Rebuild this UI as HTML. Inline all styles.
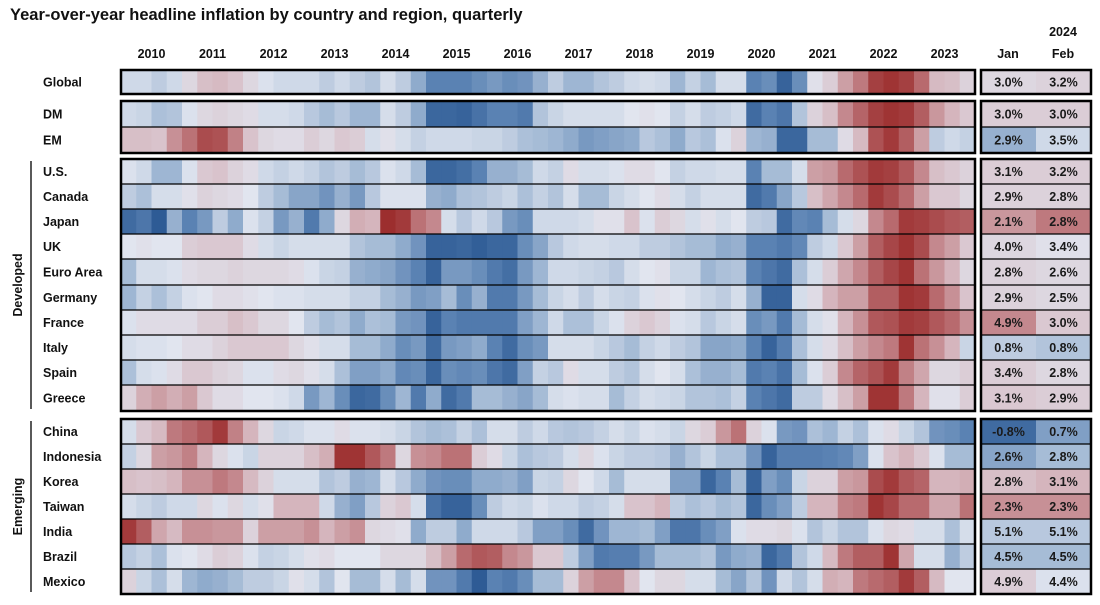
<!DOCTYPE html>
<html><head><meta charset="utf-8"><style>
html,body{margin:0;padding:0;background:#fff;}
svg{display:block;font-family:"Liberation Sans",Arial,sans-serif;}
</style></head><body>
<svg id="chart" width="1100" height="605" viewBox="0 0 1100 605" xmlns="http://www.w3.org/2000/svg">
<text x="10" y="20" font-size="16.5" font-weight="bold" fill="#111">Year-over-year headline inflation by country and region, quarterly</text>
<g id="cells"></g>
<g id="frames"></g>
<g id="labels"></g>
</svg>
<script>
const years = ["2010","2011","2012","2013","2014","2015","2016","2017","2018","2019","2020","2021","2022","2023"];
const rowNames = ["Global","DM","EM","U.S.","Canada","Japan","UK","Euro Area","Germany","France","Italy","Spain","Greece","China","Indonesia","Korea","Taiwan","India","Brazil","Mexico"];
const zGlobal=[-0.3,-0.3,-0.6,-0.3,0.3,0.8,0.9,0.7,0.3,-0.1,-0.3,-0.3,-0.3,-0.6,-0.3,-0.6,-0.8,-0.2,-0.6,-1.3,-2,-2,-2,-1.8,-1.6,-1.8,-1.7,-1.2,-0.6,-1.1,-1.1,-0.8,-0.6,-0.3,-0.2,-0.3,-1.1,-0.5,-1.0,-0.2,-0.2,-2,-1.8,-2.8,-1.8,0.1,0.5,1.3,1.8,2.7,2.9,2.7,2,0.9,0.8,0.4];
const zDM=[-0.3,-0.4,-0.9,-0.8,-0.1,0.3,0.4,0.3,0.2,-0.2,-0.2,-0.3,-0.7,-1.0,-0.7,-1.1,-1.1,-0.2,-0.6,-1.3,-2.7,-2.7,-2.8,-2.4,-2,-2,-2.2,-0.8,-0.4,-0.2,-0.2,-0.2,-0.2,0,0.1,0,-0.5,-0.2,-0.6,-0.5,-0.3,-2.6,-2.0,-2.3,-0.8,0.4,0.8,1.6,2.1,2.7,2.9,2.8,2.2,1.4,1.0,0.6];
const zEM=[0.8,0.8,0.7,1.5,1.9,2.5,2.4,1.7,0.7,0.3,0.2,0.2,0.5,0.3,0.6,0.5,-0.2,0.1,-0.2,-0.5,-0.3,-0.3,-0.3,-0.4,-0.4,-0.6,-0.9,-1.0,-1.1,-1.3,-1.6,-1.5,-1.4,-1.3,-0.7,-0.9,-1.3,-0.7,-0.9,-0.1,0.4,-1.1,-1.2,-2.7,-2.7,-1.0,-1.0,0.2,0.9,2.4,2.8,2.2,1.3,-0.6,-0.3,-0.5];
const zUS=[-0.1,-0.3,-1.1,-1.1,-0.1,0.6,0.7,0.4,0.2,-0.3,-0.5,-0.3,-0.5,-0.8,-0.6,-1.0,-0.7,-0.1,-0.3,-1.0,-2.7,-2.7,-2.5,-2.0,-1.2,-1.2,-1.0,-0.3,-0.5,0.2,-0.2,-0.2,-0.1,0.2,0.2,0,-0.5,-0.3,-0.3,-0.2,-0.2,-2.0,-1.0,-1.0,-0.2,1.3,1.4,2.0,2.4,2.8,2.7,2.3,1.6,0.8,0.6,0.4];
const zCanada=[-0.6,-0.9,-0.2,-0.2,0.1,0.4,0.3,0.2,0,-0.6,-1.0,-1.4,-1.4,-1.7,-1.2,-1.6,-0.7,-0.1,-0.1,-0.1,-1.2,-1.3,-0.9,-0.8,-0.6,-0.4,-0.9,-0.5,-0.8,-0.2,-1.0,-1.0,-0.4,-0.2,0,0.2,-0.2,-0.5,-0.2,-0.2,-0.2,-2.6,-2.2,-1.4,-0.7,0.8,1.2,1.6,2.0,2.8,2.5,2.0,1.3,0.6,0.6,0.3];
const zJapan=[-2.6,-2.3,-3.0,-1.2,-2.0,-1.6,-0.6,-1.3,-0.1,-0.5,-1.6,-1.2,-2.2,-1.3,0.3,1.1,1.0,3.0,2.8,1.9,1.6,-0.2,-0.7,-0.3,-0.7,-1.6,-1.8,-0.3,-0.3,-0.3,-0.2,0.1,0.1,0.7,-0.1,0.5,0.3,-0.2,0.1,-0.2,0,-0.6,-0.7,-2.6,-1.9,-2.0,-1.0,-0.2,0.3,1.6,2.0,2.8,2.7,2.5,2.3,2.2];
const zUK=[0,0.1,0,0,0.5,0.6,0.6,0.6,0.2,-0.2,-0.4,-0.2,-0.2,-0.2,-0.2,-0.8,-1.0,-1.0,-1.3,-1.7,-2.8,-2.8,-2.7,-2.9,-2.7,-2.7,-1.8,-1.4,-0.7,-0.3,-0.2,-0.2,-0.3,-0.3,-0.6,-0.6,-0.8,-1.0,-1.0,-1.3,-1.2,-2.0,-2.0,-2.2,-1.9,-0.6,-0.3,0.6,1.3,2.2,2.6,2.9,2.5,1.6,1.3,0.6];
const zEuro=[-1.0,-0.2,-0.2,-0.1,0.2,0.3,0.3,0.4,0.3,0.3,0.3,0.2,-0.1,-0.4,-0.5,-1.2,-1.3,-1.4,-1.7,-2.0,-2.8,-1.6,-1.6,-1.8,-2.2,-2.5,-1.6,-1.1,-0.3,-0.3,-0.4,-0.5,-0.7,-0.2,0,0.1,-0.4,-0.4,-1.1,-0.9,-0.8,-2.0,-2.3,-2.6,-0.9,-0.2,0.5,1.2,1.6,2.2,2.6,2.9,1.9,1.4,1.0,0.3];
const zGermany=[-1.1,-0.5,-0.9,-0.5,-0.1,0,0.2,0.2,0.1,0,-0.1,-0.1,-0.2,-0.2,-0.2,-0.5,-0.5,-1.0,-1.2,-1.6,-1.5,-1.0,-1.8,-1.2,-2.2,-2.2,-1.6,-1.0,-0.4,-0.2,-0.6,-0.2,-0.4,-0.5,-0.1,0.1,0,-0.2,-0.4,-0.6,-0.2,-1.2,-2.8,-2.8,-0.2,0.2,1.0,1.3,1.3,2.2,2.2,2.9,2.8,2.0,1.5,0.7];
const zFrance=[-0.1,0.2,0.2,0.2,0.2,0.5,0.5,0.8,0.6,0.3,0.3,0,-0.6,-1.0,-0.8,-1.3,-0.9,-1.0,-1.6,-1.7,-2.8,-2.0,-2.2,-2.2,-2.2,-2.2,-1.5,-1.1,-0.3,-0.9,-0.9,-0.4,-0.1,0.4,0.6,0.4,-0.1,-0.2,-0.7,-0.4,-0.2,-1.8,-1.6,-2.2,-1.0,-0.2,0.1,1.0,1.5,2.3,2.4,2.8,2.7,2.3,2.0,1.5];
const zItaly=[-0.2,-0.1,-0.1,0,0.2,0.2,0.4,0.6,0.6,0.6,0.6,0.3,0.1,-0.2,-0.2,-1.0,-1.0,-1.3,-1.8,-1.6,-2.6,-1.6,-1.5,-1.3,-2.0,-2.6,-1.8,-1.6,-0.2,-0.2,-0.2,-0.4,-0.7,-1.0,-0.5,-0.3,-0.6,-0.8,-1.4,-1.4,-1.3,-2.0,-2.8,-2.1,-0.9,-0.2,0.2,0.8,1.3,1.6,1.8,2.9,1.9,1.5,1.0,-0.4];
const zSpain=[-0.9,-0.2,-0.1,0.2,0.6,0.6,0.4,0.3,-0.1,-0.1,0.2,0.3,0.1,-0.2,-0.9,-1.5,-1.5,-1.3,-1.9,-1.8,-2.7,-1.8,-1.9,-1.8,-2.3,-2.6,-1.5,-0.5,-0.7,0.2,-0.2,-0.2,-0.6,-0.8,-0.2,0,-0.2,-0.9,-1.2,-1.2,-1.0,-2.2,-2.0,-2.4,-1.0,-0.1,0.5,1.6,2.1,2.4,2.8,1.7,1.2,0.3,0.3,0.5];
const zGreece=[0.4,1.1,1.3,1.1,1.3,0.6,0.2,0.2,0,0,-0.1,-0.3,-1.6,-1.1,-1.8,-2.7,-2.6,-1.8,-1.1,-2.2,-1.3,-2.6,-2.2,-1.0,-1.0,-1.2,-1.4,-1.0,-0.2,-0.1,-0.2,-0.2,-1.0,-0.5,-0.2,-0.3,-0.4,-0.8,-0.8,-0.9,-0.5,-2.0,-2.3,-2.6,-0.6,-0.6,0.2,0.8,1.3,2.9,2.9,1.8,1.0,0.1,0.1,0.5];
const zChina=[-0.2,0.6,0.9,1.8,2.0,2.3,2.8,1.7,1.0,0.3,-0.4,-0.3,-0.1,-0.1,0.2,-0.1,-0.1,-0.2,-0.4,-0.8,-1.0,-0.9,-0.5,-0.9,-0.2,-0.2,-0.6,-0.3,-0.7,-0.8,-0.7,-0.5,-0.2,-0.4,-0.1,-0.2,-0.4,0.3,0.5,1.4,1.9,0.4,-0.1,-1.6,-1.7,-0.9,-1.1,-0.5,-0.9,-0.1,0.2,-0.4,-0.8,-1.7,-1.8,-2.0];
const zIndonesia=[-0.5,0.3,1.3,1.4,1.7,1.0,0.3,-0.1,-0.4,0.4,0.4,0.4,0.8,1.1,2.9,2.9,2.3,1.8,0.3,1.5,1.6,1.9,1.9,0.5,0.2,-0.4,-0.9,-0.7,-0.6,-0.2,0.3,-0.1,-0.4,-0.6,-0.6,-0.7,-1.2,-0.8,-0.4,-0.9,-0.9,-1.7,-2.8,-2.1,-2.1,-2.1,-2.0,-1.9,-1.5,-0.1,0.7,1.0,0.6,-0.1,-1.0,-1.0];
const zKorea=[0.8,0.7,0.8,1.0,1.5,1.5,1.8,1.6,0.9,0.4,-0.2,-0.2,-0.2,-0.8,-0.6,-1.2,-1.1,-0.2,-0.7,-1.3,-1.7,-1.8,-1.8,-1.3,-1.3,-1.2,-1.5,-0.4,-0.5,0.3,0,-0.3,-1.0,-0.2,-0.2,-0.2,-1.5,-1.5,-2.7,-2.0,-1.0,-2.8,-1.5,-1.8,-0.4,0.4,0.4,1.3,1.4,2.5,2.8,2.3,2.1,1.0,1.0,1.1];
const zTaiwan=[-0.2,-0.4,-0.6,-0.3,-0.3,0.3,-0.1,0.3,-0.2,0.1,1.0,1.0,1.0,-0.3,-1.2,-1.5,-0.7,0.4,0.6,-0.2,-2.4,-2.8,-2.8,-1.8,-0.6,-0.3,-0.4,-0.1,-0.3,-0.3,-0.6,-0.5,-0.2,0.7,0.7,1.0,-0.6,-0.9,-0.7,-1.0,-0.8,-2.7,-1.8,-1.5,-0.6,1.0,1.0,1.7,1.8,2.9,2.6,2.0,2.0,1.2,1.2,1.9];
const zIndia=[2.8,2.2,1.2,0.9,1.5,1.5,1.4,1.4,0.4,1.3,1.3,1.3,1.5,1.0,1.3,1.5,0.3,0.2,0.1,-1.3,-0.6,-0.6,-1.3,-0.3,-0.3,-0.3,-0.7,-1.5,-1.5,-1.8,-2.6,-1.7,-1.1,-1.1,-1.0,-1.5,-2.3,-2.3,-1.8,-1.5,-0.1,0.2,0.2,0.3,-0.1,-0.8,-0.4,-0.8,-0.8,-0.1,0.3,0.2,-0.2,-0.2,-0.9,-0.2];
const zBrazil=[-0.7,-0.5,-0.9,-0.1,0,0.2,0.5,0.4,-0.1,-0.5,-0.4,-0.2,0.1,0.2,0,0,0,0.3,0.3,0.3,0.8,1.3,2.0,2.3,2.2,1.6,1.4,0.6,0.6,-0.6,-1.5,-2.2,-2.1,-2.1,-1.6,-1.0,-1.0,-1.0,-0.8,-1.6,-1.3,-1.2,-2.7,-2.2,-0.8,-0.3,0.9,1.8,2.2,2.2,2.9,1.2,-0.2,-0.2,-1.2,-0.6];
const zMexico=[0.4,-0.4,-0.9,-0.2,-1.1,-1.3,-1.2,-1.0,-0.6,-0.6,-0.4,0.1,-0.2,-0.8,0,-1.0,-1.0,-0.2,-1.0,-0.2,-1.7,-1.7,-2.2,-3.0,-2.0,-2.2,-1.8,-1.0,-1.0,0.4,1.3,1.6,1.6,0.7,0,0.3,0.3,-0.2,-0.2,-1.0,-1.4,-0.8,-1.7,-0.3,-0.8,-0.2,1.1,1.0,1.8,2.0,2.2,2.8,2.2,0.9,0,0];
const janValues = ["3.0%","3.0%","2.9%","3.1%","2.9%","2.1%","4.0%","2.8%","2.9%","4.9%","0.8%","3.4%","3.1%","-0.8%","2.6%","2.8%","2.3%","5.1%","4.5%","4.9%"];
const febValues = ["3.2%","3.0%","3.5%","3.2%","2.8%","2.8%","3.4%","2.6%","2.5%","3.0%","0.8%","2.8%","2.9%","0.7%","2.8%","3.1%","2.3%","5.1%","4.5%","4.4%"];
const janZ = [0.3,0.5,-1.2,0.5,0.4,1.4,0.3,0.4,0.4,1.6,-0.6,0.5,0.6,-2.6,-1.4,0.8,1.5,-0.7,-1.0,0.5];
const febZ = [0.4,0.5,-0.3,0.5,0.4,1.8,0.1,0.3,0.3,0.6,-0.8,0.3,0.5,-1.5,-1.0,1.0,1.5,-0.7,-1.0,-0.1];
const zRows = [zGlobal,zDM,zEM,zUS,zCanada,zJapan,zUK,zEuro,zGermany,zFrance,zItaly,zSpain,zGreece,zChina,zIndonesia,zKorea,zTaiwan,zIndia,zBrazil,zMexico];

const NS="http://www.w3.org/2000/svg";
const x0=121, x1=975, nCols=56, colW=(x1-x0)/nCols;
const rowTops=[70,101,127,159,184,209,234,259,285,310,335,360,385,419,444,469,494,519,544,569];
const rowH=[24,26,26,25,25,25,25,26,25,25,25,25,26,25,25,25,25,25,25,25];
const xPos = i => x0 + i*colW;
const stops=[[-3,[46,91,149]],[-2,[90,130,179]],[-1,[166,188,214]],[0,[225,229,239]],[1,[213,181,189]],[2,[184,106,110]],[3,[156,46,46]]];
function colorFor(z){
  z=Math.max(-3,Math.min(3,z));
  for(let k=0;k<stops.length-1;k++){
    const a=stops[k],b=stops[k+1];
    if(z<=b[0]){const t=(z-a[0])/(b[0]-a[0]);
      const c=a[1].map((v,j)=>Math.round(v+(b[1][j]-v)*t));
      return `rgb(${c[0]},${c[1]},${c[2]})`;}
  }
  return "rgb(156,46,46)";
}
function mk(tag,attrs,parent){const e=document.createElementNS(NS,tag);for(const k in attrs)e.setAttribute(k,attrs[k]);parent.appendChild(e);return e;}
const cells=document.getElementById('cells'), frames=document.getElementById('frames'), labels=document.getElementById('labels');

zRows.forEach((row,r)=>{
  row.forEach((z,i)=>{
    const c=mk('rect',{x:xPos(i),y:rowTops[r],width:colW+0.6,height:rowH[r],fill:colorFor(z)},cells);
    
    
  });
  const tl=mk('text',{x:43,y:rowTops[r]+rowH[r]/2+4.5,'font-size':12.5,'font-weight':'bold',fill:'#111'},labels);
  tl.textContent=rowNames[r];
  
  
  [[janValues,janZ,981],[febValues,febZ,1036]].forEach(([vals,zs,xx])=>{
    const rc=mk('rect',{x:xx,y:rowTops[r],width:55,height:rowH[r],fill:colorFor(zs[r])},cells);
    
    
    const tv=mk('text',{x:xx+27.5,y:rowTops[r]+rowH[r]/2+4.5,'font-size':12.5,'font-weight':'bold','text-anchor':'middle',fill:'#1a1a1a'},labels);
    tv.textContent=vals[r];
    
    
  });
});
// row separators
[2,4,5,6,7,8,9,10,11,12,14,15,16,17,18,19].forEach(r=>{
  [[x0,x1],[981,1091]].forEach(([a,b])=>{
    const l=mk('line',{x1:a,x2:b,y1:rowTops[r],y2:rowTops[r],stroke:'#000','stroke-width':1.3},frames);
    
    
  });
});
// boxes
[[0,0],[1,2],[3,12],[13,19]].forEach(([a,b])=>{
  const y=rowTops[a], h=rowTops[b]+rowH[b]-y;
  [[x0,x1],[981,1091]].forEach(([l,rr])=>{
    const bx=mk('rect',{x:l,y:y,width:rr-l,height:h,fill:'none',stroke:'#000','stroke-width':2.5},frames);
    
    
  });
});
years.forEach((yr,k)=>{
  const t=mk('text',{x:xPos(k*4+2),y:58,'font-size':12.5,'font-weight':'bold','text-anchor':'middle',fill:'#111'},labels);
  t.textContent=yr;
  
  
});
[["2024",1063,36],["Jan",1008,58],["Feb",1063,58]].forEach(([s,x,y])=>{
  const t=mk('text',{x:x,y:y,'font-size':12.5,'font-weight':'bold','text-anchor':'middle',fill:'#111'},labels);
  t.textContent=s;
  
  
});
[["Developed",3,12],["Emerging",13,19]].forEach(([s,a,b])=>{
  const y0=rowTops[a]+2, y1=rowTops[b]+rowH[b]-2, cy=(y0+y1)/2;
  const l=mk('line',{x1:31,x2:31,y1:y0,y2:y1,stroke:'#000','stroke-width':1.3},frames);
  
  
  const t=mk('text',{x:0,y:0,'font-size':12.5,'font-weight':'bold','text-anchor':'middle',fill:'#111',transform:`translate(22,${cy}) rotate(-90)`},labels);
  t.textContent=s;
  
  
});
</script>
</body></html>
